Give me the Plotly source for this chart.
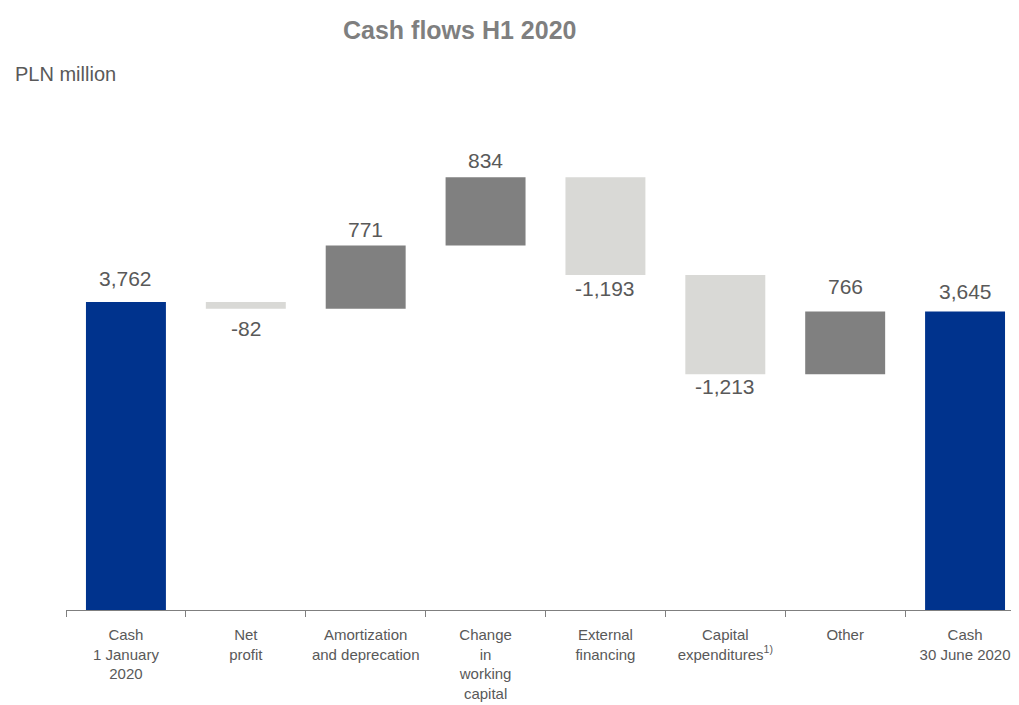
import plotly.graph_objects as go

# data
categories = ["Cash<br>1 January<br>2020", "Net<br>profit", "Amortization<br>and deprecation",
              "Change<br>in<br>working<br>capital", "External<br>financing",
              "Capital<br>expenditures<sup>1)</sup>", "Other", "Cash<br>30 June 2020"]
values = [3762, -82, 771, 834, -1193, -1213, 766, 3645]
measures = ["absolute", "relative", "relative", "relative", "relative", "relative", "relative", "total"]

# label gap from bar end (px), as placed in the original slide
label_shift = [10, 6, 2.5, 3, 0, -1.5, 12, 6.5]

navy = "#00338D"
dark_gray = "#808080"
light_gray = "#D9D9D6"
text_gray = "#595959"

fig = go.Figure()

fig.add_trace(go.Waterfall(
    x=categories,
    y=values,
    measure=measures,
    width=0.667,
    increasing=dict(marker=dict(color=dark_gray)),
    decreasing=dict(marker=dict(color=light_gray)),
    totals=dict(marker=dict(color=navy)),
    connector=dict(visible=False),
    showlegend=False,
    hoverinfo="skip",
))

# value labels above / below each bar
running = 0
for cat, v, m, sh in zip(categories, values, measures, label_shift):
    if m == "absolute":
        start, end = 0, v
        running = v
    elif m == "total":
        start, end = 0, running
    else:
        start, end = running, running + v
        running = end
    label = f"{v:,}"
    if v >= 0:
        fig.add_annotation(x=cat, y=max(start, end), text=label, showarrow=False,
                           yanchor="bottom", yshift=sh,
                           font=dict(size=21, color=text_gray))
    else:
        fig.add_annotation(x=cat, y=min(start, end), text=label, showarrow=False,
                           yanchor="top", yshift=-sh,
                           font=dict(size=21, color=text_gray))

# title and unit label
fig.add_annotation(text="<b>Cash flows H1 2020</b>", xref="paper", yref="paper",
                   x=0.4134, y=1.137, xanchor="center", yanchor="middle", showarrow=False,
                   font=dict(size=25, color="#7F7F7F"))
fig.add_annotation(text="PLN million", xref="paper", yref="paper",
                   x=-0.0556, y=1.051, xanchor="left", yanchor="middle", showarrow=False,
                   font=dict(size=20, color=text_gray))

# page body has an 8px margin, so the figure is 8px smaller than the window
fig.update_layout(
    width=1011, height=697,
    margin=dict(l=58, r=0, t=92, b=95, autoexpand=False),
    paper_bgcolor="white", plot_bgcolor="white",
    font=dict(family="Liberation Sans, Arial, sans-serif", color=text_gray),
    xaxis=dict(
        type="category",
        range=[-0.5, 7.45],
        tickangle=0, automargin=False,
        tickson="boundaries", ticks="outside", ticklen=6, tickcolor="#7F7F7F",
        ticklabelstandoff=11,
        showline=True, linecolor="#7F7F7F", linewidth=1,
        showgrid=False, zeroline=False,
        tickfont=dict(size=15, color=text_gray),
    ),
    yaxis=dict(range=[0, 6229], visible=False, showgrid=False, zeroline=False),
)

fig.write_html("out.html")
